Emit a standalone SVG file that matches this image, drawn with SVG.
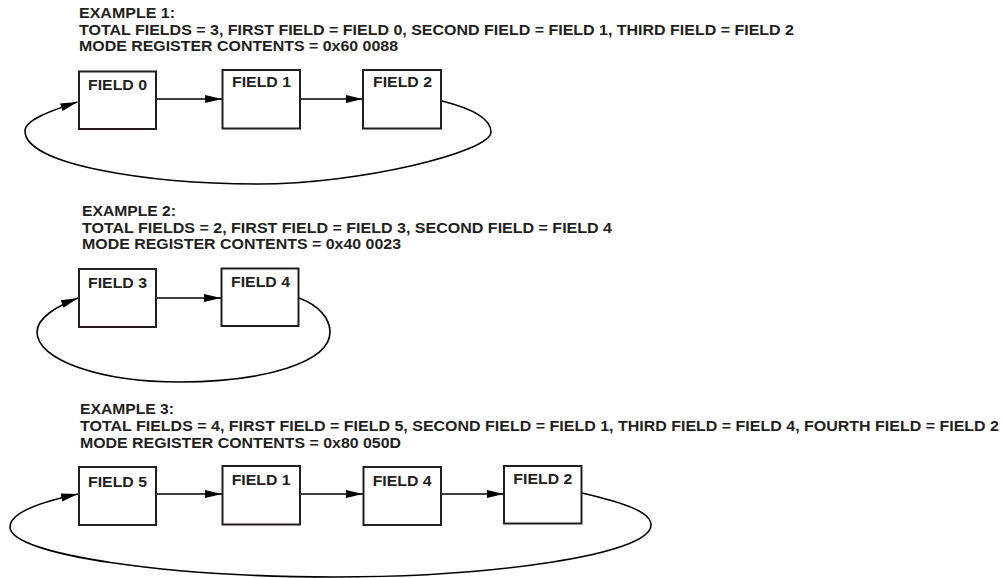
<svg xmlns="http://www.w3.org/2000/svg" width="1002" height="578" viewBox="0 0 1002 578">
<defs>
<style>
.t{font-family:"Liberation Sans",Arial,sans-serif;font-weight:bold;font-size:15px;fill:#231f20}
.box{fill:#fff;stroke:#231f20;stroke-width:2}
.c{fill:none;stroke:#000;stroke-width:1.6}
</style>
<marker id="ah" markerUnits="userSpaceOnUse" markerWidth="18" markerHeight="9" refX="17" refY="4" orient="auto" viewBox="0 0 18 9">
<path d="M0,0 L17,4 L0,8 z" fill="#000"/>
</marker>
</defs>
<rect width="1002" height="578" fill="#fff"/>

<g id="header1">
<text class="t" x="79" y="18" textLength="96" lengthAdjust="spacingAndGlyphs">EXAMPLE 1:</text>
<text class="t" x="79" y="34.5" textLength="715" lengthAdjust="spacingAndGlyphs">TOTAL FIELDS = 3, FIRST FIELD = FIELD 0, SECOND FIELD = FIELD 1, THIRD FIELD = FIELD 2</text>
<text class="t" x="79" y="51" textLength="319" lengthAdjust="spacingAndGlyphs">MODE REGISTER CONTENTS = 0x60 0088</text>
</g>
<g id="ex1-field0"><rect class="box" x="79" y="71.5" width="77" height="57.5"/><text class="t" x="88" y="89.5" textLength="59" lengthAdjust="spacingAndGlyphs">FIELD 0</text></g>
<g id="ex1-field1"><rect class="box" x="222.5" y="70" width="77.5" height="58.5"/><text class="t" x="232" y="87" textLength="59" lengthAdjust="spacingAndGlyphs">FIELD 1</text></g>
<g id="ex1-field2"><rect class="box" x="363" y="70" width="78" height="58.5"/><text class="t" x="373" y="87" textLength="59" lengthAdjust="spacingAndGlyphs">FIELD 2</text></g>

<g id="header2">
<text class="t" x="82" y="216" textLength="94" lengthAdjust="spacingAndGlyphs">EXAMPLE 2:</text>
<text class="t" x="82" y="232.5" textLength="530" lengthAdjust="spacingAndGlyphs">TOTAL FIELDS = 2, FIRST FIELD = FIELD 3, SECOND FIELD = FIELD 4</text>
<text class="t" x="82" y="249" textLength="319" lengthAdjust="spacingAndGlyphs">MODE REGISTER CONTENTS = 0x40 0023</text>
</g>
<g id="ex2-field3"><rect class="box" x="79" y="269" width="77" height="58"/><text class="t" x="88" y="288.3" textLength="59" lengthAdjust="spacingAndGlyphs">FIELD 3</text></g>
<g id="ex2-field4"><rect class="box" x="221.5" y="268.5" width="77" height="57.5"/><text class="t" x="231" y="286.7" textLength="59" lengthAdjust="spacingAndGlyphs">FIELD 4</text></g>

<g id="header3">
<text class="t" x="80" y="414" textLength="94" lengthAdjust="spacingAndGlyphs">EXAMPLE 3:</text>
<text class="t" x="80" y="431" textLength="919" lengthAdjust="spacingAndGlyphs">TOTAL FIELDS = 4, FIRST FIELD = FIELD 5, SECOND FIELD = FIELD 1, THIRD FIELD = FIELD 4, FOURTH FIELD = FIELD 2</text>
<text class="t" x="80" y="448" textLength="321" lengthAdjust="spacingAndGlyphs">MODE REGISTER CONTENTS = 0x80 050D</text>
</g>
<g id="ex3-field5"><rect class="box" x="79" y="467" width="77" height="58"/><text class="t" x="88" y="486.7" textLength="59" lengthAdjust="spacingAndGlyphs">FIELD 5</text></g>
<g id="ex3-field1"><rect class="box" x="222.5" y="466" width="77.5" height="58.5"/><text class="t" x="231.7" y="485" textLength="59" lengthAdjust="spacingAndGlyphs">FIELD 1</text></g>
<g id="ex3-field4"><rect class="box" x="363.5" y="467" width="77.5" height="58"/><text class="t" x="372.7" y="485.5" textLength="59" lengthAdjust="spacingAndGlyphs">FIELD 4</text></g>
<g id="ex3-field2"><rect class="box" x="504" y="466" width="77.5" height="57.5"/><text class="t" x="513.3" y="484" textLength="59" lengthAdjust="spacingAndGlyphs">FIELD 2</text></g>

<g id="connectors">
<line class="c" x1="157" y1="99" x2="222" y2="99" marker-end="url(#ah)"/>
<line class="c" x1="301" y1="99" x2="362.5" y2="99" marker-end="url(#ah)"/>
<path class="c" d="M442,101 C470,108 491,118 491,132 C491,152 360,184 258,184 C150,184 25,165 25,131 C25,120 50,111 77.5,102" marker-end="url(#ah)"/>

<line class="c" x1="157" y1="298" x2="221" y2="298" marker-end="url(#ah)"/>
<path class="c" d="M299,298 C318,305 330,318 330,332 C330,362 265,382 180,382 C100,382 37,360 37,332 C37,318 57,306 78,298" marker-end="url(#ah)"/>

<line class="c" x1="157" y1="494" x2="222" y2="494" marker-end="url(#ah)"/>
<line class="c" x1="301" y1="494" x2="363" y2="494" marker-end="url(#ah)"/>
<line class="c" x1="442" y1="494" x2="503.5" y2="494" marker-end="url(#ah)"/>
<path class="c" d="M582,493 C625,503 651,512 651,525 C651,555 490,577 335,577 C170,577 10,555 10,527 C10,512 45,501 78,494" marker-end="url(#ah)"/>
</g>
</svg>
